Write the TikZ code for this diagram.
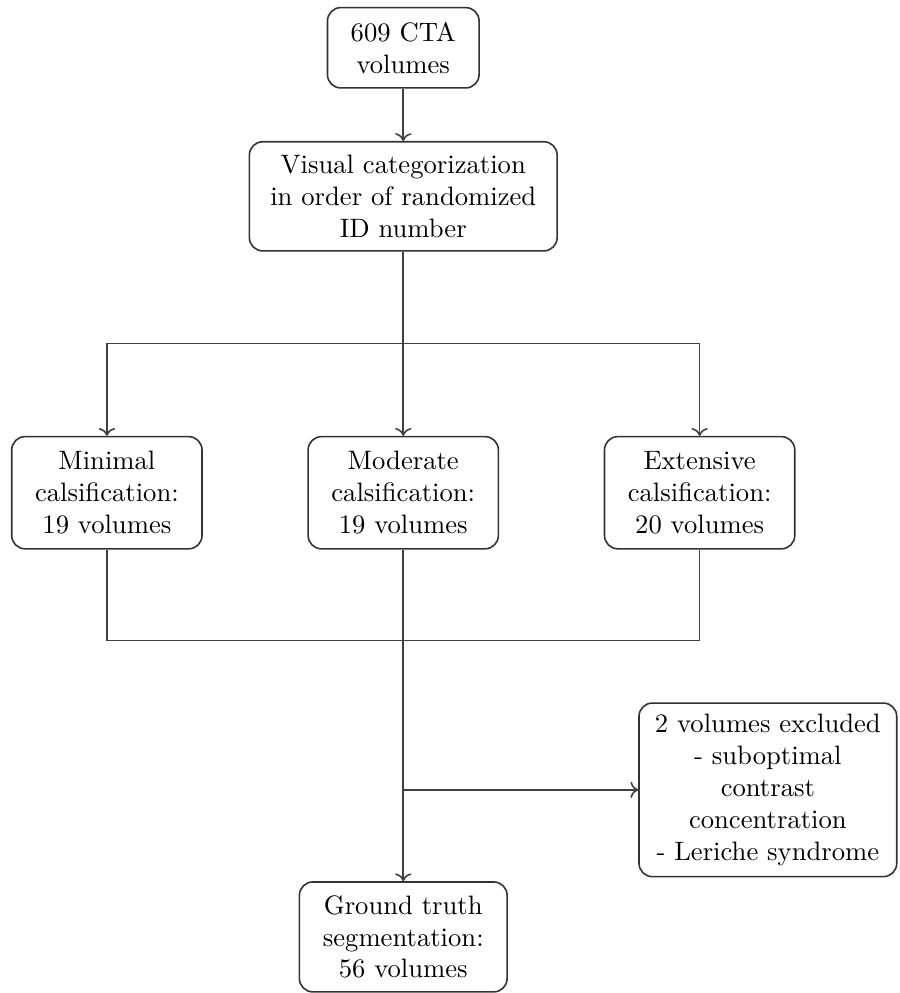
\documentclass[tikz,border=0pt]{standalone}
\usepackage{tikz}
\usetikzlibrary{positioning,arrows.meta}

\begin{document}
\begin{tikzpicture}[
        line/.style={draw=black!75, semithick}, % applies to all connectors
        block/.style={draw=black!80, semithick, rounded corners=5pt, align=center, inner sep=4pt},
    ]
        \useasboundingbox (0,0) rectangle (11.86,-13.10);

        % Nodes
        \node[block, minimum width=2.0cm, minimum height=1.06cm] (CTA) at (5.32,-0.63) {609 CTA\\volumes};
        \node[block, minimum width=4.06cm, minimum height=1.44cm] (Visual) at (5.32,-2.59) {Visual categorization\\in order of randomized\\ID number};
        \node[block, minimum width=2.51cm, minimum height=1.48cm] (Min) at (1.41,-6.50) {Minimal\\calsification:\\19 volumes};
        \node[block, minimum width=2.51cm, minimum height=1.48cm] (Mod) at (5.32,-6.50) {Moderate\\calsification:\\19 volumes};
        \node[block, minimum width=2.51cm, minimum height=1.48cm] (Ext) at (9.23,-6.50) {Extensive\\calsification:\\20 volumes};
        \node[block, minimum width=3.40cm, minimum height=2.29cm] (Excl) at (10.13,-10.42) {2 volumes excluded\\- suboptimal\\contrast\\concentration\\- Leriche syndrome};
        \node[block, minimum width=2.74cm, minimum height=1.45cm] (GT) at (5.32,-12.36) {Ground truth\\segmentation:\\56 volumes};

        % Junction points
        \coordinate (split) at (5.32,-4.53);
        \coordinate (join) at (5.32,-8.45);
        \coordinate (excl) at (5.32,-10.42);

        % Visual categorization into the three groups:
        \draw[line, ->] (CTA) -- (Visual);
        \draw[line] (Visual) -- (split);
        \draw[line, ->] (split) -| (Min.north);
        \draw[line, ->] (split) -- (Mod);
        \draw[line, ->] (split) -| (Ext.north);

        % Groups back together:
        \draw[line] (Min.south) |- (join);
        \draw[line] (Ext.south) |- (join);
        \draw[line] (Mod) -- (join);
        \draw[line, ->] (join) -- (GT);
        \draw[line, ->] (excl) -- (Excl);

    \end{tikzpicture}
\end{document}
